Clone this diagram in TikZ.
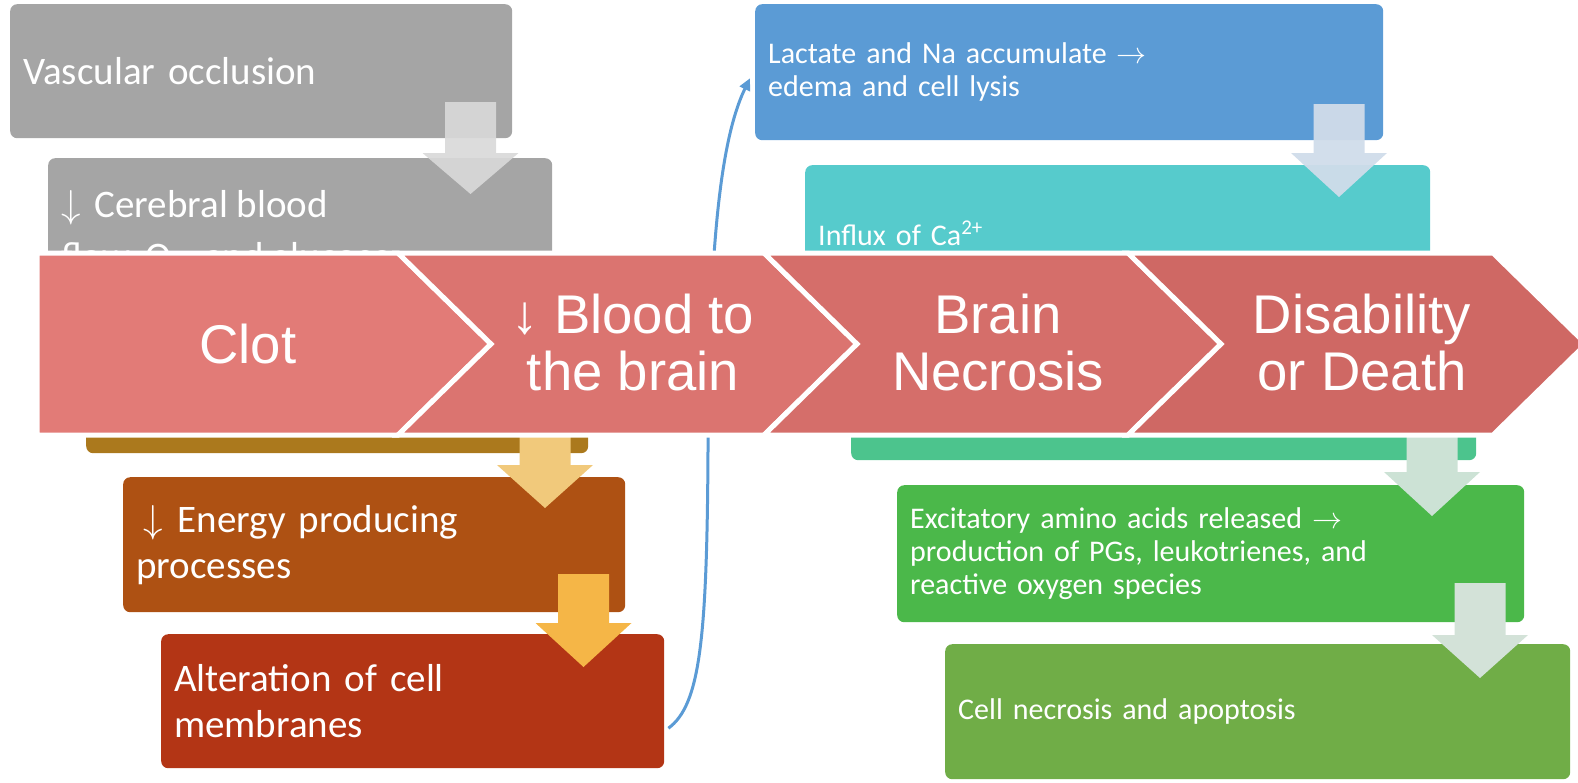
\RequirePackage{fix-cm}
\documentclass[tikz,border=0pt]{standalone}
\usepackage{fontspec}
\setmainfont{Carlito}
\newfontfamily\chevfont{Liberation Sans}
\usetikzlibrary{arrows.meta,calc}

% box fills
\definecolor{cgray}{HTML}{A5A5A5}
\definecolor{cgold}{HTML}{AB791D}
\definecolor{cbrown}{HTML}{AE5113}
\definecolor{crust}{HTML}{B33515}
\definecolor{cblue}{HTML}{5B9BD5}
\definecolor{cteal}{HTML}{56CBCC}
\definecolor{cmint}{HTML}{4CC48D}
\definecolor{cgreen}{HTML}{4BB84A}
\definecolor{colive}{HTML}{70AD47}
% chevron fills
\definecolor{chA}{HTML}{E27B77}
\definecolor{chB}{HTML}{DB7470}
\definecolor{chC}{HTML}{D56E6A}
\definecolor{chD}{HTML}{CF6864}
% block arrow fills
\definecolor{agray}{HTML}{D9D9D9}
\definecolor{aamber}{HTML}{F1C97B}
\definecolor{aorange}{HTML}{F5B647}
\definecolor{asteel}{HTML}{D0DCEA}
\definecolor{asage}{HTML}{CCE2D5}
\definecolor{asage2}{HTML}{D3E2D8}

% down-pointing block arrow: centre x, shaft top, head base, tip, fill
\newcommand{\dnarrow}[5]{%
  \fill[#5] (#1-25.5,#2) -- (#1+25.5,#2) -- (#1+25.5,#3) -- (#1+48,#3)
    -- (#1,#4) -- (#1-48,#3) -- (#1-25.5,#3) -- cycle;}

\begin{document}
\begin{tikzpicture}[x=1pt,y=-1pt,
  box/.style={rounded corners=7pt, anchor=north west, inner xsep=13pt,
    inner ysep=0pt, align=left, text=white},
  bigtxt/.style={font=\fontsize{39}{46}\selectfont},
  smalltxt/.style={font=\fontsize{30}{33}\selectfont},
  chev/.style={draw=white, line width=5pt, line join=miter},
  chevtxt/.style={font=\chevfont\fontsize{54.5}{57}\selectfont, text=white,
    align=center, inner sep=0pt},
  conn/.style={draw=cblue, line width=3pt,
    -{Triangle[length=12pt,width=11pt]}},
]
\useasboundingbox (0,0) rectangle (1578,782);
\clip (0,0) rectangle (1578,782);

% ---- left staircase ----
\node[box, bigtxt, fill=cgray, minimum width=502pt, minimum height=134pt,
  text width=476pt] (vo) at (10,4) {Vascular occlusion};
\node[box, fill=cgray, minimum width=504pt, minimum height=134pt] (cbf) at (48,158) {};
\node[bigtxt, text=white, align=left, anchor=base west, inner sep=0pt]
  (cbftxt) at ($(cbf.north west)+(13,111)$)
  {$\downarrow$\hspace{5pt} Cerebral blood\\[6pt]flow, O\textsubscript{2}, and glucose};
\dnarrow{470.5}{102}{153}{194}{agray,opacity=0.92}
\node[box, bigtxt, fill=cgold, minimum width=502pt, minimum height=135pt,
  text width=476pt] (mid) at (86,318) {};
\node[box, bigtxt, fill=cbrown, minimum width=502pt, minimum height=135pt,
  text width=476pt] (epp) at (123,477)
  {\hspace*{7pt}$\downarrow$\hspace{2pt} Energy producing\\processes};
\dnarrow{545}{420}{465}{508}{aamber}
\node[box, bigtxt, fill=crust, minimum width=503pt, minimum height=134pt,
  text width=477pt] (acm) at (161,634) {Alteration of cell\\membranes};
\dnarrow{583.5}{574}{623}{667}{aorange}

% ---- right staircase ----
\node[box, smalltxt, fill=cblue, minimum width=628pt, minimum height=136pt,
  text width=602pt] (lac) at (755,4)
  {Lactate and Na accumulate $\rightarrow$\\edema and cell lysis};
\node[box, smalltxt, fill=cteal, minimum width=625pt, minimum height=136pt,
  text width=599pt] (ca) at (805,165) {Influx of Ca\textsuperscript{2+}};
\dnarrow{1339}{104}{153}{197}{asteel,opacity=0.95}
\node[box, smalltxt, fill=cmint, minimum width=625pt, minimum height=135pt,
  text width=599pt] (mint) at (851,325) {};
\node[box, smalltxt, fill=cgreen, minimum width=627pt, minimum height=137pt,
  text width=601pt] (eaa) at (897,485)
  {Excitatory amino acids released $\rightarrow$\\production of PGs, leukotrienes, and\\reactive oxygen species};
\dnarrow{1432}{420}{472}{516}{asage}
\node[box, smalltxt, fill=colive, minimum width=625pt, minimum height=135pt,
  text width=599pt] (cna) at (945,644) {Cell necrosis and apoptosis};
\dnarrow{1480}{583}{635}{678}{asage2}

% ---- connector from membranes to lactate ----
\draw[conn] ($(acm.east)+(4,27)$) .. controls (700,705) and (707,640) .. (708,450)
  .. controls (709,250) and (720,140) .. ($(lac.west)+(-5,6)$);

% ---- chevron band ----
\path[chev, fill=chA] (37,253) -- (398,253) -- (491,344) -- (398,435) -- (37,435) -- cycle;
\path[chev, fill=chB] (398,253) -- (764,253) -- (857,344) -- (764,435) -- (398,435) -- (491,344) -- cycle;
\path[chev, fill=chC] (764,253) -- (1128,253) -- (1221,344) -- (1128,435) -- (764,435) -- (857,344) -- cycle;
\path[chev, fill=chD] (1128,253) -- (1493,253) -- (1586,344) -- (1493,435) -- (1128,435) -- (1221,344) -- cycle;

\node[chevtxt] (clot) at (248,344) {Clot};
\node[chevtxt] (blood) at (633,343) {↓ Blood to\\the brain};
\node[chevtxt] (necr) at (998,343) {Brain\\Necrosis};
\node[chevtxt] (death) at (1362,343) {Disability\\or Death};
\end{tikzpicture}
\end{document}
